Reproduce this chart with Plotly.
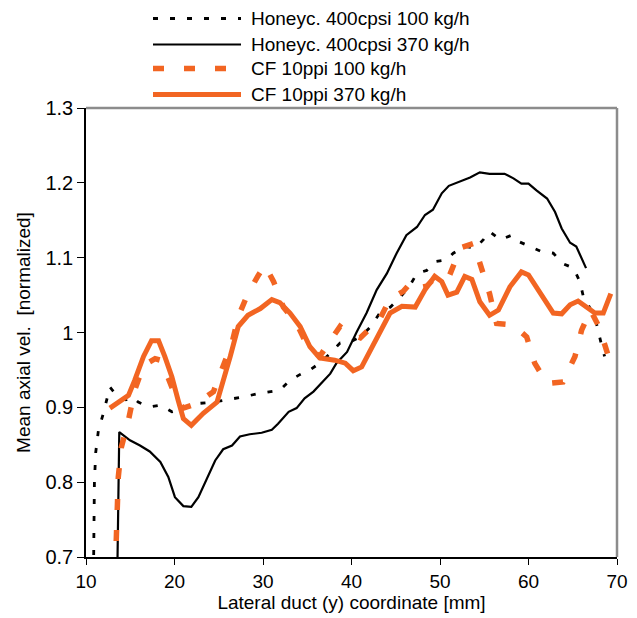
import plotly.graph_objects as go

# ---------------- data ----------------
hc100_x = [10.85, 10.95, 11.1, 11.4, 11.96, 12.7, 13.6, 14.5, 15.2, 15.9, 16.7, 17.4, 18.4, 19.7,
           21.0, 22.5, 24.4, 25.9, 27.8, 29.7, 31.9, 33.05, 34.2, 35.3, 36.4, 37.6, 38.7, 39.8,
           41.0, 42.1, 43.2, 44.4, 45.5, 46.6, 47.4, 48.5, 49.6, 50.7, 51.5, 52.8, 54.0, 54.9,
           55.6, 56.8, 58.1, 59.0, 60.2, 61.5, 62.8, 63.9, 65.1, 65.8, 66.2, 67.5, 68.3, 68.6]
hc100_y = [0.68, 0.80, 0.84, 0.869, 0.892, 0.927, 0.914, 0.910, 0.914, 0.907, 0.903, 0.901, 0.903, 0.894,
           0.898, 0.905, 0.907, 0.910, 0.914, 0.919, 0.923, 0.936, 0.944, 0.950, 0.959, 0.972, 0.986, 0.987,
           0.994, 1.007, 1.026, 1.034, 1.047, 1.063, 1.079, 1.083, 1.095, 1.097, 1.106, 1.115, 1.113, 1.124,
           1.135, 1.124, 1.130, 1.121, 1.115, 1.108, 1.106, 1.092, 1.086, 1.068, 1.048, 1.021, 0.981, 0.968]

hc370_x = [13.54, 13.76, 14.97, 16.1, 17.2, 18.4, 19.3, 20.05, 21.0, 21.9, 22.7, 23.6, 24.6, 25.5,
           26.5, 27.4, 28.5, 29.85, 31.0, 31.7, 32.9, 33.8, 34.7, 35.7, 36.6, 37.6, 38.3, 39.5,
           40.6, 41.7, 42.85, 44.0, 45.1, 46.2, 47.4, 48.3, 49.2, 50.2, 51.0, 52.1, 53.4, 54.5,
           55.6, 57.3, 58.3, 59.2, 60.0, 60.9, 62.1, 63.0, 63.75, 64.7, 65.4, 66.5]
hc370_y = [0.68, 0.867, 0.856, 0.849, 0.841, 0.827, 0.807, 0.780, 0.768, 0.767, 0.780, 0.803, 0.829, 0.844,
           0.849, 0.861, 0.864, 0.866, 0.870, 0.878, 0.894, 0.899, 0.912, 0.921, 0.932, 0.945, 0.959, 0.974,
           1.001, 1.026, 1.057, 1.079, 1.106, 1.130, 1.141, 1.157, 1.164, 1.186, 1.196, 1.201, 1.207, 1.214,
           1.212, 1.212, 1.206, 1.199, 1.199, 1.190, 1.179, 1.161, 1.139, 1.120, 1.115, 1.086]

cf100_x = [13.3, 13.65, 14.0, 14.8, 15.5, 16.5, 17.8, 18.4, 19.3, 20.25, 21.0, 22.5, 24.4, 25.5,
           26.5, 27.2, 28.3, 29.4, 30.2, 31.2, 32.3, 33.8, 34.9, 36.4, 37.6, 38.7, 39.5, 41.0,
           42.5, 43.2, 44.35, 45.85, 46.8, 47.7, 48.5, 49.6, 51.1, 52.3, 53.8, 54.7, 55.6, 56.4,
           58.3, 59.8, 60.7, 62.1, 63.9, 65.25, 66.0, 67.0, 68.0, 69.3]
cf100_y = [0.68, 0.807, 0.847, 0.883, 0.923, 0.956, 0.965, 0.963, 0.939, 0.910, 0.899, 0.905, 0.921, 0.954,
           0.986, 1.021, 1.052, 1.075, 1.090, 1.068, 1.034, 1.012, 0.985, 0.968, 0.990, 1.008, 1.000, 0.993,
           1.010, 1.018, 1.045, 1.055, 1.068, 1.060, 1.062, 1.075, 1.077, 1.113, 1.119, 1.088, 1.052, 1.012,
           1.010, 0.994, 0.959, 0.932, 0.934, 0.968, 1.003, 1.030, 1.007, 0.958]

cf370_x = [12.7, 14.8, 15.5, 16.5, 17.4, 18.2, 18.9, 19.7, 20.4, 21.0, 21.9, 23.25, 24.8, 25.5,
           26.3, 27.2, 28.3, 29.7, 31.0, 31.9, 33.05, 34.2, 35.3, 36.4, 38.1, 39.3, 40.2, 41.15,
           42.1, 43.2, 44.35, 45.7, 47.2, 48.3, 49.4, 50.2, 50.9, 51.9, 52.8, 53.6, 54.5, 55.6,
           56.6, 57.9, 59.2, 60.0, 61.3, 62.8, 63.75, 64.7, 65.6, 66.6, 67.5, 68.45, 69.3]
cf370_y = [0.899, 0.916, 0.936, 0.968, 0.989, 0.989, 0.968, 0.941, 0.910, 0.885, 0.876, 0.892, 0.907, 0.934,
           0.968, 1.008, 1.023, 1.032, 1.044, 1.040, 1.026, 1.008, 0.981, 0.966, 0.963, 0.959, 0.949, 0.954,
           0.976, 1.003, 1.026, 1.035, 1.034, 1.057, 1.075, 1.068, 1.050, 1.054, 1.075, 1.071, 1.041, 1.023,
           1.030, 1.061, 1.081, 1.077, 1.052, 1.026, 1.025, 1.037, 1.042, 1.034, 1.026, 1.026, 1.052]

series_names = ["Honeyc. 400cpsi 100 kg/h", "Honeyc. 400cpsi 370 kg/h",
                "CF 10ppi 100 kg/h", "CF 10ppi 370 kg/h"]

x_ticks = [10, 20, 30, 40, 50, 60, 70]
y_ticks = [0.7, 0.8, 0.9, 1.0, 1.1, 1.2, 1.3]
y_tick_labels = ["0.7", "0.8", "0.9", "1", "1.1", "1.2", "1.3"]

# ---------------- styles ----------------
ORANGE = "#f26522"
FONT = "Liberation Sans, Arial, Helvetica, sans-serif"
styles = [
    dict(color="black", width=2.8, dash="5px,12px"),
    dict(color="black", width=2.2, dash="solid"),
    dict(color=ORANGE, width=5.5, dash="11px,20px"),
    dict(color=ORANGE, width=5, dash="solid"),
]
data = [(hc100_x, hc100_y), (hc370_x, hc370_y), (cf100_x, cf100_y), (cf370_x, cf370_y)]

fig = go.Figure()
for (xs, ys), name, st in zip(data, series_names, styles):
    fig.add_trace(go.Scatter(x=xs, y=ys, mode="lines", name=name, line=st,
                             showlegend=False, cliponaxis=True))

# page offset (default body margin) and target plot area in window pixels
OFF = 8
L, R, T, B = 86 - OFF, 617 - OFF, 108 - OFF, 557 - OFF
W, H = 637 - OFF, 618 - OFF

def px_to_paper(px, py):
    # px, py in window pixels
    return (px - OFF - L) / (R - L), (B - (py - OFF)) / (B - T)

shapes = []
annotations = []
legend_rows = [18.5, 44.5, 68.5, 94.5]
for name, st, row in zip(series_names, styles, legend_rows):
    x0, y0 = px_to_paper(153, row)
    x1, _ = px_to_paper(241, row)
    shapes.append(dict(type="line", xref="paper", yref="paper", x0=x0, x1=x1, y0=y0, y1=y0,
                       line=dict(color=st["color"], width=st["width"], dash=st["dash"])))
    tx, _ = px_to_paper(249, row)
    annotations.append(dict(xref="paper", yref="paper", x=tx, y=y0, text=name, showarrow=False,
                            xanchor="left", yanchor="middle",
                            font=dict(family=FONT, size=19, color="black")))

# gray top & right frame
shapes.append(dict(type="line", xref="paper", yref="paper", x0=0, x1=1, y0=1, y1=1,
                   line=dict(color="#8c8c8c", width=2.5)))
shapes.append(dict(type="line", xref="paper", yref="paper", x0=1, x1=1, y0=0, y1=1,
                   line=dict(color="#8c8c8c", width=2.5)))

fig.update_layout(
    width=W, height=H,
    margin=dict(l=L, r=W - R, t=T, b=H - B, autoexpand=False),
    paper_bgcolor="white", plot_bgcolor="white",
    font=dict(family=FONT, size=19, color="black"),
    shapes=shapes, annotations=annotations,
)
fig.update_xaxes(range=[10, 70], tickvals=x_ticks, ticks="outside", ticklen=6, tickwidth=1.2,
                 tickcolor="black", showline=True, linecolor="black", linewidth=1.5,
                 showgrid=False, zeroline=False, tickfont=dict(size=19),
                 title=dict(text="Lateral duct (y) coordinate [mm]", font=dict(size=19), standoff=5))
fig.update_yaxes(range=[0.7, 1.3], tickvals=y_ticks, ticktext=y_tick_labels, ticks="outside",
                 ticklen=7, tickwidth=1.2, tickcolor="black", showline=True, linecolor="black",
                 linewidth=1.5, showgrid=False, zeroline=False, tickfont=dict(size=20),
                 title=dict(text="Mean axial vel.  [normalized]", font=dict(size=19), standoff=10))

fig.write_html("out.html")
